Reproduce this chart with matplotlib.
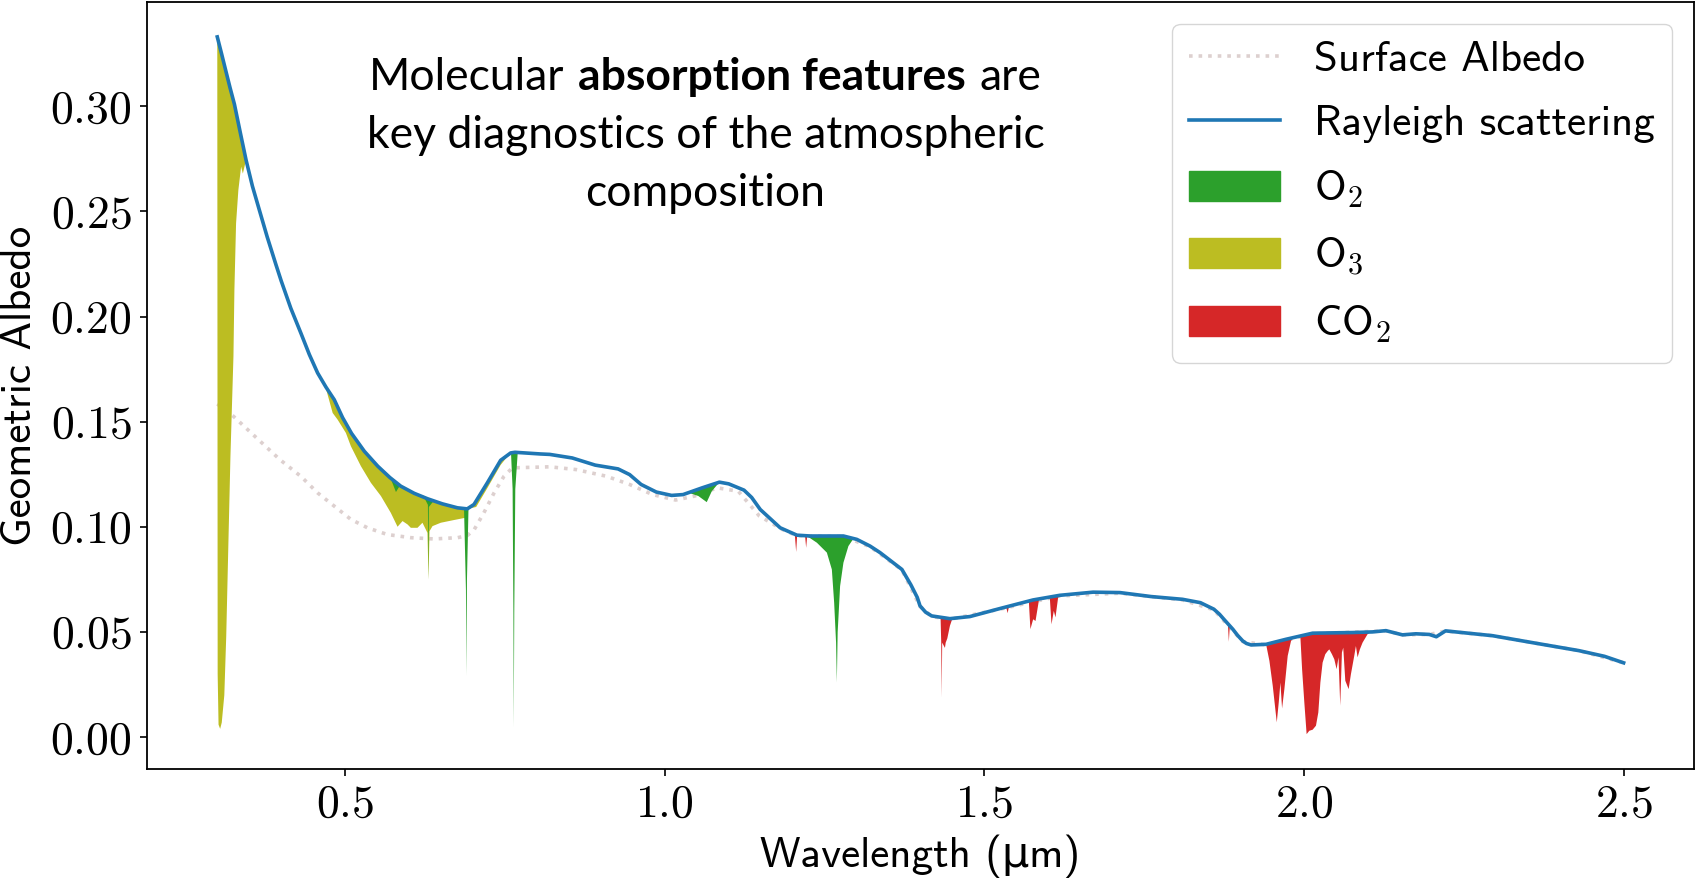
import numpy as np
import matplotlib
matplotlib.use('Agg')
import matplotlib.pyplot as plt
from matplotlib.lines import Line2D
from matplotlib.patches import Patch
from matplotlib.ticker import FuncFormatter
from matplotlib.offsetbox import TextArea, HPacker, VPacker, AnnotationBbox

# Rayleigh-only spectrum (blue line)
wl_ray = np.array([0.300, 0.3067, 0.3134, 0.320, 0.3268, 0.336, 0.345, 0.355, 0.3658, 0.378,
                   0.392, 0.400, 0.415, 0.431, 0.444, 0.457, 0.470, 0.483, 0.496, 0.510,
                   0.530, 0.551, 0.570, 0.587, 0.608, 0.629, 0.652, 0.6757, 0.691, 0.7016,
                   0.7225, 0.7433, 0.759, 0.7657, 0.8058, 0.820, 0.8553, 0.8912, 0.927, 0.945,
                   0.963, 0.9868, 1.0107, 1.0287, 1.0585, 1.0855, 1.100, 1.124, 1.136, 1.1494,
                   1.1806, 1.2067, 1.2275, 1.2795, 1.3004, 1.3212, 1.3368, 1.371, 1.385, 1.395,
                   1.3993, 1.408, 1.4176, 1.4461, 1.4774, 1.5242, 1.5762, 1.6179, 1.670, 1.712,
                   1.761, 1.810, 1.838, 1.859, 1.8678, 1.875, 1.8886, 1.896, 1.9042, 1.910,
                   1.9173, 1.9407, 1.9719, 2.0135, 2.076, 2.1072, 2.1281, 2.154, 2.175, 2.196,
                   2.207, 2.2214, 2.295, 2.363, 2.430, 2.470, 2.500])
alb_ray = np.array([0.3330, 0.3250, 0.3168, 0.3088, 0.3010, 0.2875, 0.2745, 0.2620, 0.2507, 0.2380,
                    0.2245, 0.2170, 0.2040, 0.1920, 0.1820, 0.1732, 0.1665, 0.1605, 0.1520, 0.1445,
                    0.1360, 0.1289, 0.1235, 0.1194, 0.1160, 0.1134, 0.1110, 0.1091, 0.1086, 0.1107,
                    0.1210, 0.1317, 0.1352, 0.1355, 0.1347, 0.1345, 0.1328, 0.1294, 0.1276, 0.1249,
                    0.1202, 0.1166, 0.1150, 0.1154, 0.1186, 0.1213, 0.1205, 0.1175, 0.1140, 0.1083,
                    0.0996, 0.0961, 0.0957, 0.0957, 0.0941, 0.0909, 0.0878, 0.0798, 0.0725, 0.0665,
                    0.0625, 0.0595, 0.0577, 0.0564, 0.0574, 0.0612, 0.0653, 0.0675, 0.0690, 0.0688,
                    0.0669, 0.0656, 0.0640, 0.0609, 0.0585, 0.0560, 0.0514, 0.0485, 0.0458, 0.0446,
                    0.0439, 0.0442, 0.0466, 0.0495, 0.0498, 0.0501, 0.0507, 0.0487, 0.0492, 0.0489,
                    0.0478, 0.0506, 0.0483, 0.0447, 0.0412, 0.0385, 0.0354])

# surface albedo (dotted line)
wl_surf = [0.300, 0.3253, 0.357, 0.398, 0.431, 0.457, 0.483, 0.509, 0.535, 0.566,
           0.603, 0.639, 0.676, 0.691, 0.702, 0.717, 0.733, 0.7485, 0.7616, 0.820,
           0.861, 0.909, 0.945, 0.981, 1.017, 1.047, 1.082, 1.115, 1.148, 1.184,
           1.2067, 1.2795, 1.3212, 1.371, 1.3993, 1.4176, 1.4461, 1.5242, 1.6179, 1.712,
           1.810, 1.859, 1.9042, 1.9407, 2.0135, 2.1281, 2.154, 2.196, 2.2214, 2.295,
           2.363, 2.430, 2.500]
alb_surf = [0.1585, 0.1526, 0.1436, 0.1320, 0.1240, 0.1162, 0.1099, 0.1036, 0.0996, 0.0964,
            0.0949, 0.0943, 0.0949, 0.0959, 0.0988, 0.1067, 0.1162, 0.1241, 0.1281, 0.1286,
            0.1273, 0.1241, 0.1202, 0.1154, 0.1128, 0.1147, 0.1186, 0.1170, 0.1052, 0.0988,
            0.0958, 0.0955, 0.0906, 0.0796, 0.0622, 0.0574, 0.0561, 0.0609, 0.0672, 0.0685,
            0.0653, 0.0606, 0.0455, 0.0439, 0.0492, 0.0506, 0.0487, 0.0489, 0.0505, 0.0483,
            0.0447, 0.0412, 0.0354]

# absorbed spectra, one (wavelength, albedo) pair per band
o3_bands = [
    ([0.3000, 0.3006, 0.3020, 0.3045, 0.3070, 0.3110, 0.3140, 0.3174, 0.3206, 0.3253,
      0.3268, 0.3294, 0.3330, 0.3373, 0.3400, 0.3450],
     [0.3330, 0.0300, 0.0060, 0.0040, 0.0070, 0.0200, 0.0480, 0.0925, 0.1337, 0.1811,
      0.2128, 0.2444, 0.2602, 0.2713, 0.2680, 0.2745]),
    ([0.468, 0.4805, 0.4883, 0.5012, 0.509, 0.5247, 0.5403, 0.556, 0.5715, 0.582,
      0.5898, 0.5976, 0.6028, 0.6132, 0.621, 0.6288, 0.6305, 0.6320, 0.6367, 0.6496,
      0.6704, 0.6887, 0.691],
     [0.1680, 0.1542, 0.1510, 0.1447, 0.1384, 0.1289, 0.1210, 0.1147, 0.1067, 0.1001,
      0.1028, 0.1012, 0.0996, 0.0996, 0.1020, 0.0972, 0.0750, 0.0980, 0.1004, 0.1020,
      0.1033, 0.1044, 0.1086]),
    ([0.692, 0.705, 0.7225, 0.7433, 0.758],
     [0.1086, 0.1095, 0.1185, 0.1295, 0.1350]),
]
o2_bands = [
    ([0.571, 0.5795, 0.586], [0.1232, 0.1166, 0.1198]),
    ([0.622, 0.6295, 0.6303, 0.6310, 0.638], [0.1150, 0.1105, 0.0750, 0.1095, 0.1122]),
    ([0.6860, 0.6890, 0.6898, 0.6906, 0.6930], [0.1088, 0.0700, 0.0292, 0.0750, 0.1090]),
    ([0.7595, 0.7620, 0.7632, 0.7638, 0.7646, 0.7662, 0.7700],
     [0.1352, 0.1180, 0.0600, 0.0047, 0.0600, 0.1180, 0.1354]),
    ([1.040, 1.0526, 1.0657, 1.0736, 1.0855], [0.1160, 0.1147, 0.1118, 0.1170, 0.1213]),
    ([1.2223, 1.238, 1.2536, 1.2614, 1.265, 1.2680, 1.2692, 1.2705, 1.2743, 1.2795,
      1.2873, 1.2951, 1.3004],
     [0.0957, 0.0925, 0.0878, 0.0798, 0.0640, 0.0450, 0.0260, 0.0500, 0.0719, 0.0830,
      0.0909, 0.0944, 0.0941]),
]
co2_bands = [
    ([1.2035, 1.2056, 1.2070, 1.2195, 1.2212, 1.2228], [0.0962, 0.0881, 0.0955, 0.0958, 0.0901, 0.0957]),
    ([1.4315, 1.4325, 1.4332, 1.4340, 1.4383, 1.4395, 1.4420, 1.4461, 1.4500],
     [0.0566, 0.0450, 0.0189, 0.0450, 0.0425, 0.0450, 0.0470, 0.0530, 0.0565]),
    ([1.5340, 1.5364, 1.5385], [0.0620, 0.0590, 0.0623]),
    ([1.5695, 1.5720, 1.5763, 1.5800, 1.5855], [0.0650, 0.0514, 0.0561, 0.0553, 0.0655]),
    ([1.6023, 1.6050, 1.6086, 1.6112, 1.6154, 1.6190], [0.0668, 0.0537, 0.0601, 0.0570, 0.0665, 0.0674]),
    ([1.8810, 1.8824, 1.8840], [0.0540, 0.0454, 0.0535]),
    ([1.9407, 1.9459, 1.9511, 1.9574, 1.9605, 1.9631, 1.9657, 1.9693, 1.9745, 1.9797, 1.9823],
     [0.0442, 0.0363, 0.0245, 0.0071, 0.0166, 0.0260, 0.0137, 0.0229, 0.0387, 0.0458, 0.0469]),
    ([1.9943, 1.9970, 2.0005, 2.0041, 2.0083, 2.0135, 2.0187, 2.0224, 2.0256, 2.0291,
      2.0333, 2.0370, 2.0396, 2.0437, 2.0474, 2.0510, 2.0540, 2.0567, 2.0593, 2.0614,
      2.0646, 2.0698, 2.0734, 2.0786, 2.0812, 2.0838, 2.0874, 2.0916, 2.0994, 2.1046],
     [0.0480, 0.0324, 0.0166, 0.0015, 0.0031, 0.0036, 0.0055, 0.0118, 0.0260, 0.0355,
      0.0395, 0.0410, 0.0418, 0.0395, 0.0371, 0.0324, 0.0380, 0.0150, 0.0403, 0.0426,
      0.0269, 0.0229, 0.0300, 0.0387, 0.0434, 0.0380, 0.0418, 0.0450, 0.0490, 0.0500]),
]

plt.rcParams['font.family'] = ['cmss10', 'DejaVu Sans']
plt.rcParams['mathtext.fontset'] = 'cm'
plt.rcParams['axes.formatter.use_mathtext'] = True
plt.rcParams['font.size'] = 30

fig = plt.figure(figsize=(16.97, 8.84), dpi=100)
ax = fig.add_axes([0.0866, 0.1301, 0.9116, 0.8676])


def band_fill(bands, color):
    for wl_abs, alb_abs in bands:
        inner = (wl_ray > wl_abs[0]) & (wl_ray < wl_abs[-1])
        xs = np.concatenate([wl_abs, wl_ray[inner][::-1]])
        ys = np.concatenate([alb_abs, alb_ray[inner][::-1]])
        ax.fill(xs, ys, color=color, lw=0, zorder=2)


ax.plot(wl_surf, alb_surf, ls=':', color='#ddd0cf', lw=2.6, zorder=1)
band_fill(o3_bands, 'tab:olive')
band_fill(o2_bands, 'tab:green')
band_fill(co2_bands, 'tab:red')
ax.plot(wl_ray, alb_ray, color='tab:blue', lw=2.6, zorder=3)

ax.set_xticks([0.5, 1.0, 1.5, 2.0, 2.5])
ax.set_yticks([0.0, 0.05, 0.10, 0.15, 0.20, 0.25, 0.30])
ax.xaxis.set_major_formatter(FuncFormatter(lambda v, p: r'$%.1f$' % v))
ax.yaxis.set_major_formatter(FuncFormatter(lambda v, p: r'$%.2f$' % v))
ax.tick_params(labelsize=33, length=5, width=1.2, pad=6)
for s in ax.spines.values():
    s.set_linewidth(1.3)

ax.set_xlabel('Wavelength (μm)', fontsize=31, labelpad=7)
ax.set_ylabel('Geometric Albedo', fontsize=31, labelpad=8)

handles = [Line2D([], [], ls=':', color='#ddd0cf', lw=2.6),
           Line2D([], [], color='tab:blue', lw=2.6),
           Patch(color='tab:green'), Patch(color='tab:olive'), Patch(color='tab:red')]
labels = ['Surface Albedo', 'Rayleigh scattering', 'O$_2$', 'O$_3$', 'CO$_2$']
ax.legend(handles, labels, loc='upper right', fontsize=31, handlelength=2.1,
          handletextpad=0.8, labelspacing=0.6)

# annotation with a bold part in the first line
tp = dict(family='Lato', fontsize=32, color='black')
tpb = dict(family='Lato', fontsize=32, color='black', fontweight='bold')
line1 = HPacker(children=[TextArea('Molecular', textprops=tp),
                          TextArea('absorption features', textprops=tpb),
                          TextArea('are', textprops=tp)], sep=10, pad=0, align='baseline')
line2 = TextArea('key diagnostics of the atmospheric', textprops=tp)
line3 = TextArea('composition', textprops=tp)
block = VPacker(children=[line1, line2, line3], sep=12, pad=0, align='center')
ab = AnnotationBbox(block, (0.361, 0.826), xycoords='axes fraction', frameon=False,
                    box_alignment=(0.5, 0.5))
ax.add_artist(ab)

fig.savefig('out.png', dpi=100)
